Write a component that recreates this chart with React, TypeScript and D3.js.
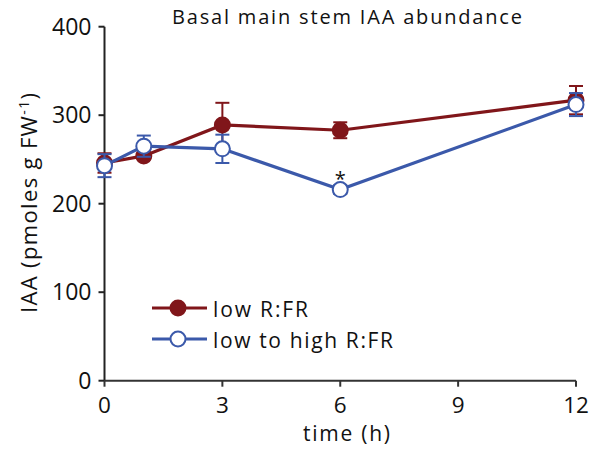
import React from "react";
import * as d3 from "d3";

const times = [0, 1, 3, 6, 12];
const lowMean = [246, 254, 289, 283, 317];
const lowErr = [11, 4, 25, 9, 16];
const highMean = [243, 265, 262, 216, 312];
const highErr = [13, 12, 16, 5, 13];
const xTicks = [0, 3, 6, 9, 12];
const yTicks = [0, 100, 200, 300, 400];
const seriesNames = ["low R:FR", "low to high R:FR"];
const sigTimes = [6];

const RED = "#80161a";
const BLUE = "#3b59aa";
const FONT = "'Open Sans', Lato, sans-serif";

export default function App() {
  const W = 599, H = 450;
  const x = d3.scaleLinear().domain([0, 12]).range([104.5, 576]);
  const y = d3.scaleLinear().domain([0, 400]).range([380.7, 26.7]);
  const line = d3.line<number>().x((_, i) => x(times[i])).y((d) => y(d));
  const series = [
    { name: seriesNames[0], mean: lowMean, err: lowErr, color: RED, filled: true, len: 95 },
    { name: seriesNames[1], mean: highMean, err: highErr, color: BLUE, filled: false, len: 180 },
  ];
  const cap = 7;
  return (
    <svg width={W} height={H} style={{ position: "absolute", left: 0, top: 0 }} fontFamily={FONT}>
      <rect width={W} height={H} fill="#fff" />
      <text x={172} y={24} fontSize={20} fill="#111" textLength={350} lengthAdjust="spacing">Basal main stem IAA abundance</text>
      {/* axes */}
      <line x1={x(0)} x2={x(0)} y1={y(400)} y2={y(0)} stroke="#222" strokeWidth={2} />
      <line x1={x(0)} x2={x(12)} y1={y(0)} y2={y(0)} stroke="#333" strokeWidth={2} />
      {yTicks.map((t) => (
        <g key={"y" + t}>
          <line x1={x(0) - 6} x2={x(0)} y1={y(t)} y2={y(t)} stroke="#222" strokeWidth={2} />
          <text x={x(0) - 13} y={y(t)} dy="0.36em" textAnchor="end" fontSize={23} fill="#111">{t}</text>
        </g>
      ))}
      {xTicks.map((t) => (
        <g key={"x" + t}>
          <line x1={x(t)} x2={x(t)} y1={y(0)} y2={y(0) + 6} stroke="#333" strokeWidth={2} />
          <text x={x(t)} y={412.5} textAnchor="middle" fontSize={22.5} fill="#111">{t}</text>
        </g>
      ))}
      <text x={303} y={441} fontSize={21} fill="#111" textLength={87} lengthAdjust="spacing">time (h)</text>
      <text transform={`translate(37,313) rotate(-90)`} fontSize={22} fill="#111" textLength={220} lengthAdjust="spacing">
        IAA (pmoles g FW<tspan dy="-8" fontSize={14}>-1</tspan><tspan dy="8">)</tspan>
      </text>
      {series.map((s) => (
        <g key={s.name}>
          <path d={line(s.mean) || ""} fill="none" stroke={s.color} strokeWidth={3.2} />
          {s.mean.map((m, i) => (
            <g key={i} stroke={s.color} strokeWidth={2}>
              <line x1={x(times[i])} x2={x(times[i])} y1={y(m - s.err[i])} y2={y(m + s.err[i])} />
              <line x1={x(times[i]) - cap} x2={x(times[i]) + cap} y1={y(m + s.err[i])} y2={y(m + s.err[i])} />
              <line x1={x(times[i]) - cap} x2={x(times[i]) + cap} y1={y(m - s.err[i])} y2={y(m - s.err[i])} />
            </g>
          ))}
          {s.mean.map((m, i) => (
            <circle key={"c" + i} cx={x(times[i])} cy={y(m)} r={7.5} fill={s.filled ? s.color : "#fff"} stroke={s.color} strokeWidth={2} />
          ))}
        </g>
      ))}
      {sigTimes.map((t) => (
        <text key={t} x={x(t)} y={y(highMean[times.indexOf(t)]) - 4} textAnchor="middle" fontSize={20} fill="#111">*</text>
      ))}
      {series.map((s, i) => (
        <g key={"leg" + i} transform={`translate(0,${308 + i * 31})`}>
          <line x1={152} x2={207} y1={0} y2={0} stroke={s.color} strokeWidth={3.2} />
          <circle cx={178} cy={0} r={7.5} fill={s.filled ? s.color : "#fff"} stroke={s.color} strokeWidth={2} />
          <text x={213} y={9} fontSize={21} fill="#111" textLength={s.len} lengthAdjust="spacing">{s.name}</text>
        </g>
      ))}
    </svg>
  );
}
